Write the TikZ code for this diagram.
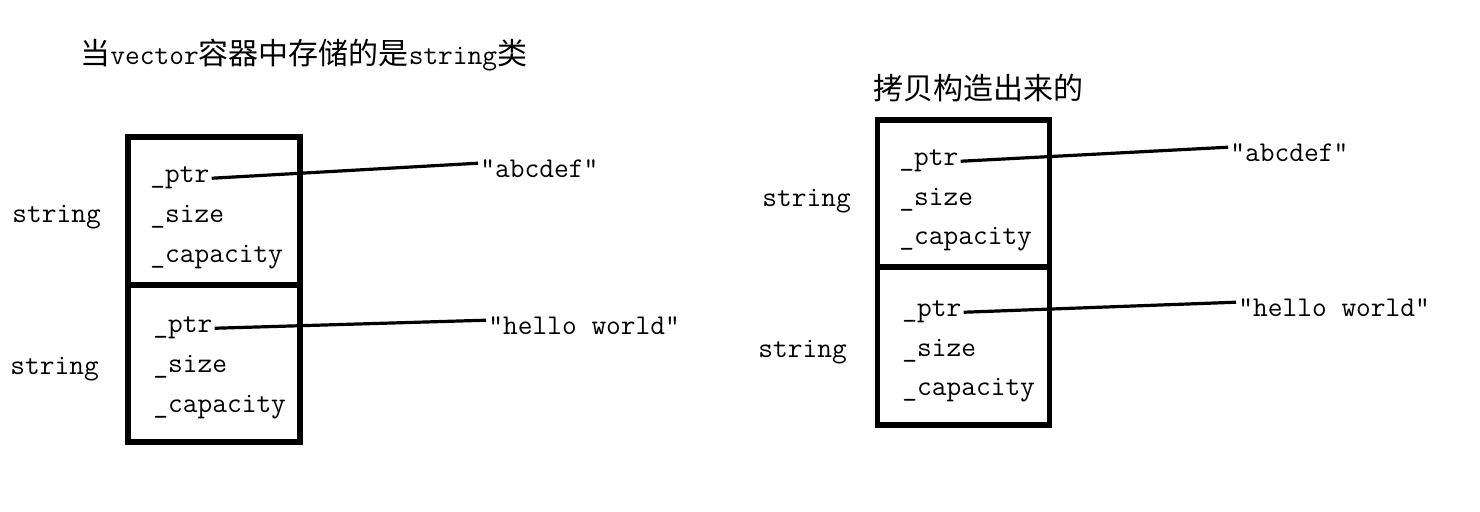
\documentclass[tikz,border=0pt]{standalone}
\usepackage{fontspec}
\newfontfamily\cjk{Noto Sans CJK SC}
\usepackage{tikz}
\usetikzlibrary{positioning}
\newcommand\zh[1]{{\cjk\fontsize{15}{18}\selectfont #1}}

\begin{document}
\begin{tikzpicture}[
  x=0.5pt, y=-0.5pt,
  strbox/.style={draw, line width=2.8pt, minimum width=86pt, inner sep=0pt, outer sep=0pt},
  field/.style={anchor=base west, inner sep=1pt, font=\ttfamily\fontsize{14.3}{17}\selectfont},
  typename/.style={field},
  strval/.style={field},
  heading/.style={field},
  link/.style={line width=1.6pt},
]
  \useasboundingbox (0,0) rectangle (1480,512);

  % left: vector<string>
  \node[heading] (title1) at (78,65) {\zh{当}vector\zh{容器中存储的是}string\zh{类}};

  \node[strbox, minimum height=74pt] (box1) at (214,211) {};
  \node[strbox, minimum height=78.5pt, below=0pt of box1] (box2) {};

  \node[typename] (type1) at (10,223) {string};
  \node[typename] (type2) at (8,375) {string};

  \node[field] (ptr1) at (148,183) {\_ptr};
  \node[field] (size1) at (148,223) {\_size};
  \node[field] (cap1) at (148,263) {\_capacity};
  \node[field] (ptr2) at (151,333) {\_ptr};
  \node[field] (size2) at (151,373) {\_size};
  \node[field] (cap2) at (151,413) {\_capacity};

  \node[strval] (val1) at (478,178) {"abcdef"};
  \node[strval] (val2) at (486,335) {"hello world"};

  \draw[link] (ptr1.east) -- ([yshift=3pt]val1.west);
  \draw[link] (ptr2.east) -- ([yshift=3pt]val2.west);

  % right: copy-constructed
  \node[heading] (title2) at (871,100) {\zh{拷贝构造出来的}};

  \node[strbox, minimum height=73.5pt] (box3) at (963.5,193.5) {};
  \node[strbox, minimum height=79pt, below=0pt of box3] (box4) {};

  \node[typename] (type3) at (760,207) {string};
  \node[typename] (type4) at (756,358) {string};

  \node[field] (ptr3) at (897,166) {\_ptr};
  \node[field] (size3) at (897,206) {\_size};
  \node[field] (cap3) at (897,245) {\_capacity};
  \node[field] (ptr4) at (900,317) {\_ptr};
  \node[field] (size4) at (900,357) {\_size};
  \node[field] (cap4) at (900,396) {\_capacity};

  \node[strval] (val3) at (1228,162) {"abcdef"};
  \node[strval] (val4) at (1236,317) {"hello world"};

  \draw[link] (ptr3.east) -- ([yshift=3pt]val3.west);
  \draw[link] (ptr4.east) -- ([yshift=3pt]val4.west);
\end{tikzpicture}
\end{document}
